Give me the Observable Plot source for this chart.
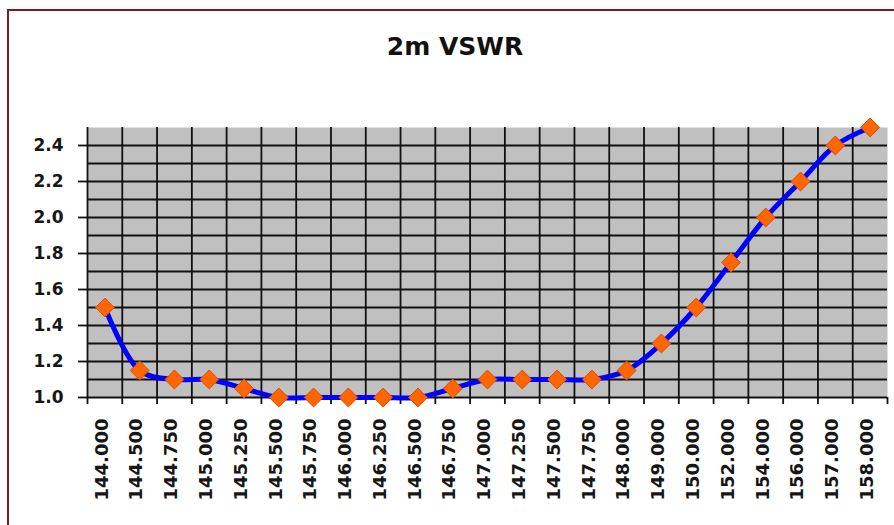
<!DOCTYPE html>
<html>
<head>
<meta charset="utf-8">
<script src="https://cdn.jsdelivr.net/npm/d3@7"></script>
<script src="https://cdn.jsdelivr.net/npm/@observablehq/plot@0.6"></script>
<style>
  html, body { margin: 0; padding: 0; background: #fff; }
  #wrap { position: relative; width: 894px; height: 525px; overflow: hidden; background: #fff; }
  #border { position: absolute; left: 7px; top: 9px; width: 900px; height: 600px;
            border-top: 2px solid #7a1c22; border-left: 2px solid #7a1c22; box-sizing: border-box; }
  #title { position: absolute; left: 0; top: 32px; width: 910px; text-align: center;
           font-family: "DejaVu Sans", sans-serif; font-weight: bold; font-size: 25px; color: #111; }
  svg { position: absolute; left: 0; top: 0; }
</style>
</head>
<body>
<div id="wrap">
  <div id="border"></div>
  <div id="title">2m VSWR</div>
</div>
<script>
const title = "2m VSWR";
const categories = ["144.000","144.500","144.750","145.000","145.250","145.500","145.750","146.000","146.250","146.500","146.750","147.000","147.250","147.500","147.750","148.000","149.000","150.000","152.000","154.000","156.000","157.000","158.000"];
const vswr = [1.5,1.15,1.1,1.1,1.05,1.0,1.0,1.0,1.0,1.0,1.05,1.1,1.1,1.1,1.1,1.15,1.3,1.5,1.75,2.0,2.2,2.4,2.5];
const yTicks = [1.0,1.2,1.4,1.6,1.8,2.0,2.2,2.4];
const yGrid = [1.0,1.1,1.2,1.3,1.4,1.5,1.6,1.7,1.8,1.9,2.0,2.1,2.2,2.3,2.4];

document.getElementById("title").textContent = title;

const data = categories.map((c, i) => ({i, c, v: vswr[i]}));
const idx = categories.map((c, i) => i);
const bounds = d3.range(-0.5, categories.length - 0.5, 1);
const lastBound = [categories.length - 0.5];

const chart = Plot.plot({
  width: 894,
  height: 525,
  marginLeft: 87,
  marginRight: 7,
  marginTop: 127,
  marginBottom: 128,
  style: {fontFamily: "DejaVu Sans, sans-serif", fontWeight: "bold", fontSize: "17px", color: "#161616", background: "transparent"},
  x: {type: "linear", domain: [-0.5, categories.length - 0.5]},
  y: {domain: [1.0, 2.5]},
  marks: [
    Plot.frame({fill: "#c0c0c0", stroke: null}),
    Plot.ruleY(yGrid, {stroke: "#111", strokeWidth: 1.8}),
    Plot.ruleX(bounds, {stroke: "#111", strokeWidth: 1.8, insetBottom: -7}),
    Plot.ruleX(lastBound, {y1: 1.0, y2: 1.0, stroke: "#111", strokeWidth: 1.8, insetBottom: -7}),
    Plot.axisY(yTicks, {tickSize: 9, tickPadding: 15, strokeWidth: 1.8, stroke: "#111", tickFormat: d => d.toFixed(1), label: null, fontSize: 17}),
    Plot.axisX(idx, {tickSize: 0, tickPadding: 21, tickRotate: -90, dx: -3, tickFormat: i => categories[i], label: null, fontSize: 18}),
    Plot.line(data, {x: "i", y: "v", stroke: "#0000ff", strokeWidth: 5, curve: "catmull-rom"}),
    Plot.dot(data, {x: "i", y: "v", symbol: "diamond2", r: 8.5, fill: "#ff6600", stroke: "#e04a00", strokeWidth: 1})
  ]
});
document.getElementById("wrap").appendChild(chart);
</script>
</body>
</html>
